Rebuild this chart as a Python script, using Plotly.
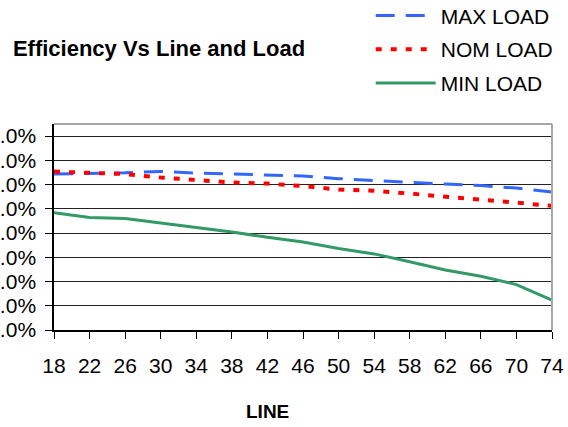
import plotly.graph_objects as go

line_v = [18, 22, 26, 30, 34, 38, 42, 46, 50, 54, 58, 62, 66, 70, 74]
max_load = [92.87, 92.92, 92.97, 93.09, 92.95, 92.88, 92.82, 92.70, 92.49, 92.33, 92.21, 92.04, 91.92, 91.71, 91.38]
nom_load = [93.07, 92.95, 92.87, 92.58, 92.39, 92.18, 92.08, 91.88, 91.59, 91.49, 91.26, 91.01, 90.78, 90.53, 90.25]
min_load = [89.67, 89.29, 89.20, 88.84, 88.47, 88.08, 87.65, 87.26, 86.72, 86.28, 85.63, 84.95, 84.44, 83.75, 82.47]

x_ticks = [18, 22, 26, 30, 34, 38, 42, 46, 50, 54, 58, 62, 66, 70, 74]
y_ticks = [80, 82, 84, 86, 88, 90, 92, 94, 96]
y_tick_text = ["%.1f%%" % v for v in y_ticks]

FONT = "Liberation Sans, Arial, sans-serif"

fig = go.Figure()
fig.add_trace(go.Scatter(x=line_v, y=max_load, name="MAX LOAD", mode="lines",
                         legendgroup="a",
                         line=dict(color="#3366FF", width=3, dash="19px,11px")))
fig.add_trace(go.Scatter(x=line_v, y=nom_load, name="NOM LOAD", mode="lines",
                         legendgroup="b",
                         line=dict(color="#FF0000", width=4, dash="6px,9px")))
fig.add_trace(go.Scatter(x=line_v, y=min_load, name="MIN LOAD", mode="lines",
                         legendgroup="c",
                         line=dict(color="#339966", width=3)))

fig.update_layout(
    width=568, height=427,
    margin=dict(l=54, r=16, t=124, b=97, autoexpand=False),
    paper_bgcolor="white", plot_bgcolor="white",
    font=dict(family=FONT, size=21, color="black"),
    showlegend=True,
    legend=dict(x=0.636, xanchor="left", y=1.625, yanchor="top",
                font=dict(size=21), itemwidth=60, tracegroupgap=3.5,
                bgcolor="rgba(0,0,0,0)"),
    title=dict(text="<b>Efficiency Vs Line and Load</b>", x=159 / 568, xanchor="center",
               y=1 - 48 / 427, yanchor="middle", xref="container", yref="container",
               font=dict(size=22, family=FONT)),
)
fig.update_xaxes(range=[18, 74], tickvals=x_ticks, ticks="outside", ticklen=7,
                 tickcolor="black", showline=True, linecolor="black", linewidth=1.5,
                 showgrid=False, zeroline=False, ticklabelstandoff=9,
                 tickfont=dict(size=21), automargin=False)
fig.update_yaxes(range=[80, 97], tickvals=y_ticks, ticktext=y_tick_text, ticks="outside",
                 ticklen=7, tickcolor="black", showline=True, linecolor="black",
                 linewidth=1.5, showgrid=True, gridcolor="#222222", gridwidth=1,
                 zeroline=False, ticklabelstandoff=5, tickfont=dict(size=21),
                 automargin=False)
# gray plot-area border on top and right
fig.add_shape(type="line", xref="paper", yref="paper", x0=0, x1=1, y0=1, y1=1,
              line=dict(color="#A6A6A6", width=2))
fig.add_shape(type="line", xref="paper", yref="paper", x0=1, x1=1, y0=0, y1=1,
              line=dict(color="#A6A6A6", width=2))
fig.add_annotation(text="<b>LINE</b>", xref="paper", yref="paper",
                   x=(267 - 54) / 498, y=-(411 - 330) / 206, xanchor="center",
                   yanchor="middle", showarrow=False, font=dict(size=19, family=FONT))
fig.write_html("out.html", config={"displayModeBar": False},
               post_script="document.body.style.margin='0';")
